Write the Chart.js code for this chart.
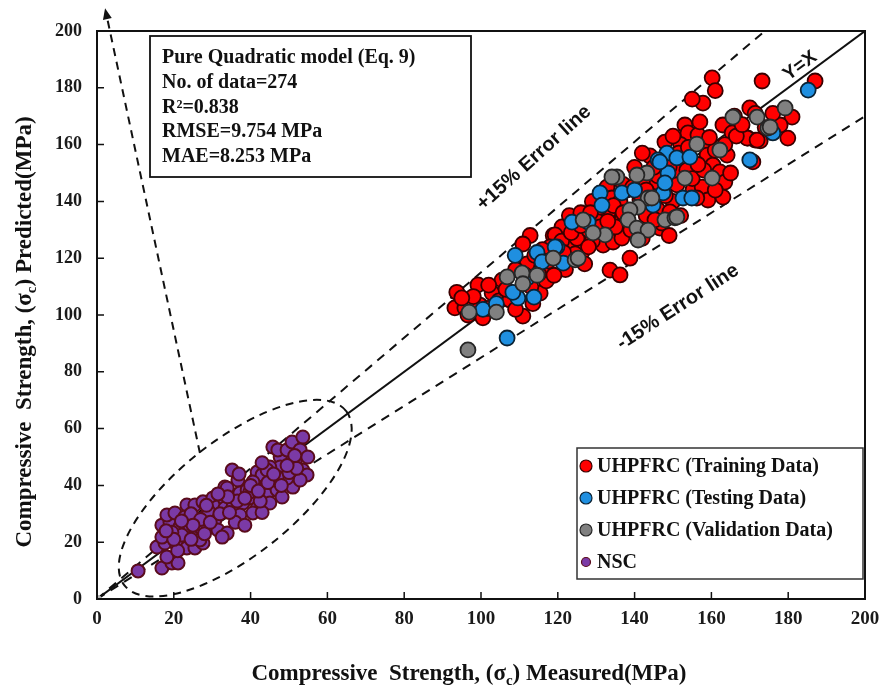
<!DOCTYPE html>
<html>
<head>
<meta charset="utf-8">
<script src="https://cdn.jsdelivr.net/npm/chart.js@4.4.1/dist/chart.umd.min.js"></script>
<style>
  body { margin: 0; background: #fff; }
  #chart { display: block; }
</style>
</head>
<body>
<canvas id="chart" width="889" height="692"></canvas>
<script>
const SERIF = "'Liberation Serif', 'Times New Roman', serif";
const SANS = "'Liberation Sans', Arial, sans-serif";

// axis range and tick step (MPa)
const AXIS_MIN = 0;
const AXIS_MAX = 200;
const TICK_STEP = 20;

const seriesLabels = [
  "UHPFRC (Training Data)",
  "UHPFRC (Testing Data)",
  "UHPFRC (Validation Data)",
  "NSC",
];

const statsLines = [
  "Pure Quadratic model (Eq. 9)",
  "No. of data=274",
  "R\u00b2=0.838",
  "RMSE=9.754 MPa",
  "MAE=8.253 MPa",
];

// [measured, predicted]
const trainData = [
  [93.7,108],[93.2,102.5],[95.8,102.5],[96.6,100],[99.2,110.6],[99.7,103.5],[100.5,99],[102.9,107.7],
  [104.7,105],[107.5,105.3],[115.4,107.7],[105.5,112.3],[110.9,99.6],[97.5,104.5],[101.8,102.3],[98,106.5],
  [112.8,128],[110.9,125],[118.8,128],[116.7,116.5],[121.1,131],[119.3,128.2],[124,124],[126.3,122.2],
  [130.2,133.5],[131.8,124.6],[134.4,125.7],[136.7,127.1],[133.6,115.8],[136.2,114.1],[138.8,120],[112,118],
  [114,121],[117,112],[120,120.5],[122,116],[125,127],[128,130],[127,118],[129,126],[113,110],[111.5,114],
  [118,124],[123,135],[116,123],[132.8,145],[134.1,141.2],[133.1,136.3],[136.2,139.8],[141.4,140.5],
  [144.5,138.7],[145.8,146.8],[136.7,133.5],[145.8,134.5],[146.6,130.6],[147.9,160.9],[147.1,132.4],
  [146.1,137],[153.1,166.9],[153.9,164.1],[156.5,163.4],[158.9,159.9],[164.1,156.3],[158.9,156.3],
  [160.4,152.8],[150.5,151],[153.6,151],[162.2,150.4],[163.5,146.8],[151,145.8],[155.2,144],[157.6,145],
  [159.1,140.5],[163,141.5],[156.2,141.2],[138,144],[140,152],[142,147],[139,130],[143,135],[150,140],
  [152,135],[149,128],[135,131],[131,138],[137,146],[144,156],[148,142],[155,148],[158,151],[161,144],
  [160.2,183.5],[161,179],[157.8,174.6],[173.2,182.4],[187,182.4],[170,172.9],[171.4,171],[181,169.7],
  [177.9,166.9],[179.9,162.3],[168.2,163.4],[169.5,162.3],[171.4,161.6],[172.7,161.3],[170.8,153.9],
  [163,166.9],[165.4,164.1],[169.3,162.3],[171.9,161.6],[166,170],[152,160],[129,140],[126,136],[142,127],
  [121,126],[123.5,129],[126,131.5],[131,131],[133,133],[128,124],[124.5,121.5],[119,114],[115,114.5],
  [117.5,119],[109,116],[106.5,109],[102,110.5],[95,106],[141,143],[143,144],[146,149],[149,152],
  [151.5,157],[154,159],[156.5,153],[161,158],[159.5,162.5],[157,168],[163.5,160],[166.5,163],
  [149.2,136.3],[145.3,133.5],[134.5,138.5],[139.5,145],[150,163],[165,150],[142,157],[145,152],
  [137,136],[128.5,136],[121.5,122],[113.5,104],[109,102],[174,166],[176,171],[168,167],[155,176],
];

const testData = [
  [100.5,102],[109.6,106],[108.3,108],[113.8,106.3],[108.9,121],[114.6,122],[115.9,118.7],[119.8,124],
  [121.4,118.3],[106.8,91.9],[131,143],[136.7,143],[131.5,138.7],[147.4,143],[148.7,150],[148.4,157],
  [146.1,154.6],[127.9,132.7],[123.7,132.7],[119.3,124],[151,155.3],[154.4,155.6],[146.6,153.9],
  [170,154.6],[147.9,146.5],[152.6,141.2],[154.9,141.2],[144.8,138.7],[185.2,179.2],[176,164.1],
  [140,144],[112,113],[104,104],
];

const validationData = [
  [96.9,101],[96.6,87.7],[106.8,113.4],[110.7,114.8],[110.9,111],[114.6,114],[118.8,120],[124.5,119.4],
  [143.2,150],[140.6,149.3],[135.4,148.6],[134.1,148.6],[143.5,141.2],[140.9,138],[138.8,137],[138.3,133.5],
  [140.6,130.6],[143.5,129.9],[147.9,133.5],[150.5,134.2],[140.9,126.4],[132.3,128.2],[129.2,128.9],
  [126.6,133.5],[125.3,120],[165.6,169.7],[171.9,169.7],[174.7,165.8],[156.2,160.2],[162.2,158.1],
  [153.1,148.2],[160.2,148.2],[144.5,141.2],[151,134.5],[179.2,172.9],[175.3,166.2],[104,101],
];

const nscData = [
  [10.7,9.9],[16.9,10.9],[19.5,12.7],[21.1,12.7],[18.2,14.8],[15.6,18.3],[17.7,19.7],[20.8,19],[23.4,18],
  [25.5,18],[27.6,19.7],[16.9,21.8],[16.9,26],[19,27.1],[21.6,25.4],[23.7,24.3],[25,21.8],[26.8,20.8],
  [22.1,22.5],[18.2,29.6],[20.3,30.3],[23.4,33.1],[25.5,33.1],[22.9,28.9],[26.3,27.8],[28.6,29.6],
  [26.8,25.4],[30.2,25.4],[30.7,27.8],[27.6,34.2],[30.2,35.6],[31.3,32.4],[33.3,34.9],[33.3,32],
  [35.4,36.6],[35.4,32.4],[31.5,24.3],[33.9,23.2],[32.6,21.8],[35.2,45.4],[36.7,41.9],[33.3,39.4],
  [37.2,37.3],[38,33.8],[40.4,35.6],[41.7,32],[40.6,30.3],[37.2,29.6],[39.1,38.4],[41.1,41.9],[41.7,44.7],
  [43,43.7],[43.8,39.4],[44.3,36.6],[45,33.8],[46.9,38.4],[46.4,41.9],[48.4,43],[48.2,35.9],[51,39.4],
  [49,48.9],[47.7,50],[45.8,53.5],[47.1,52.5],[49.5,52.5],[50.8,55.3],[53.6,57],[52.9,52.5],[54.9,50],
  [51.6,48.2],[53.6,45.4],[54.7,43.7],[52.9,41.9],[50.3,46.5],[47.7,46.5],[45,46.5],[40.6,41.2],
  [44.3,45.4],[39.8,37.7],[33.9,39.1],[49.5,42.6],[46.9,43],[29,31],[24.5,30],[28,23],[36,27],[43,30.5],
  [38.5,26],[19.5,23.5],[21,17],[24.5,21],[27,28],[29.5,27],[32,30],[34.5,30.5],[36.5,34.5],[38.5,35.5],
  [42.5,34.5],[40,40],[42,38],[44.5,41],[46,44],[48,40],[50,44.5],[52,46],[51.5,50.5],[49.5,47],
  [43,48],[37,44],[34,36],[31.5,37],[28.5,33],[25,26],[22,27.5],[20,21],[18,24],
];

const originPoint = [[0, 0]];

// reference lines: y = x and the +/-15% bounds
const refX = [0, 200];
const errorBand = 0.15;

// highlighted NSC region and its pointer (data units)
const ellipseCenter = [36, 35.5];
const arrowFrom = [26.8, 51.4];
const arrowTo = [2.1, 208];

const toXY = (pairs) => pairs.map(([x, y]) => ({ x, y }));
const refLine = (k) => refX.map((x) => ({ x, y: x * k }));

const pointSet = (label, data, fill, border, radius, width, order) => ({
  type: "scatter",
  label,
  data: toXY(data),
  backgroundColor: fill,
  borderColor: border,
  borderWidth: width,
  pointRadius: radius,
  pointHoverRadius: radius,
  order,
});

const lineSet = (label, data, dash) => ({
  type: "line",
  label,
  data,
  borderColor: "#111",
  borderWidth: 2,
  borderDash: dash,
  pointRadius: 0,
  fill: false,
  order: 10,
});

function drawSubText(ctx, parts, x, y, size) {
  // parts: [text, isSubscript]
  const fontFor = (sub) => `bold ${sub ? Math.round(size * 0.65) : size}px ${SERIF}`;
  let total = 0;
  parts.forEach(([t, sub]) => { ctx.font = fontFor(sub); total += ctx.measureText(t).width; });
  let cx = x - total / 2;
  ctx.textAlign = "left";
  ctx.textBaseline = "alphabetic";
  parts.forEach(([t, sub]) => {
    ctx.font = fontFor(sub);
    ctx.fillText(t, cx, y + (sub ? size * 0.22 : 0));
    cx += ctx.measureText(t).width;
  });
}

function rotatedLabel(ctx, text, px, py, deg, font) {
  ctx.save();
  ctx.translate(px, py);
  ctx.rotate(-deg * Math.PI / 180);
  ctx.font = font;
  ctx.textAlign = "center";
  ctx.textBaseline = "middle";
  ctx.fillText(text, 0, 0);
  ctx.restore();
}

const decorations = {
  id: "decorations",
  beforeDatasetsDraw(chart) {
    const { ctx } = chart;
    const sx = chart.scales.x, sy = chart.scales.y;
    ctx.save();
    ctx.strokeStyle = "#111";
    ctx.lineWidth = 2;
    ctx.setLineDash([8, 6]);

    // dashed ellipse around the NSC cluster
    ctx.beginPath();
    ctx.ellipse(sx.getPixelForValue(ellipseCenter[0]), sy.getPixelForValue(ellipseCenter[1]),
      141, 58, -38.2 * Math.PI / 180, 0, Math.PI * 2);
    ctx.stroke();

    // dashed arrow pointing to the top-left
    const x0 = sx.getPixelForValue(arrowFrom[0]), y0 = sy.getPixelForValue(arrowFrom[1]);
    const x1 = sx.getPixelForValue(arrowTo[0]), y1 = sy.getPixelForValue(arrowTo[1]);
    const ang = Math.atan2(y1 - y0, x1 - x0);
    const head = 11;
    ctx.beginPath();
    ctx.moveTo(x0, y0);
    ctx.lineTo(x1 - Math.cos(ang) * head, y1 - Math.sin(ang) * head);
    ctx.stroke();
    ctx.setLineDash([]);
    ctx.fillStyle = "#111";
    ctx.beginPath();
    ctx.moveTo(x1, y1);
    ctx.lineTo(x1 - Math.cos(ang) * head + Math.sin(ang) * 4.5, y1 - Math.sin(ang) * head - Math.cos(ang) * 4.5);
    ctx.lineTo(x1 - Math.cos(ang) * head - Math.sin(ang) * 4.5, y1 - Math.sin(ang) * head + Math.cos(ang) * 4.5);
    ctx.closePath();
    ctx.fill();
    ctx.restore();
  },
  afterDraw(chart) {
    const { ctx, chartArea: a } = chart;
    const sx = chart.scales.x, sy = chart.scales.y;
    ctx.save();

    // plot frame and inward tick marks
    ctx.strokeStyle = "#111";
    ctx.lineWidth = 2;
    ctx.strokeRect(a.left, a.top, a.right - a.left, a.bottom - a.top);
    ctx.lineWidth = 1.5;
    ctx.beginPath();
    for (let v = AXIS_MIN + TICK_STEP; v < AXIS_MAX; v += TICK_STEP) {
      const px = sx.getPixelForValue(v);
      ctx.moveTo(px, a.bottom);
      ctx.lineTo(px, a.bottom - 7);
      const py = sy.getPixelForValue(v);
      ctx.moveTo(a.left, py);
      ctx.lineTo(a.left + 7, py);
    }
    ctx.stroke();

    // statistics box
    const bx = a.left + 53, by = a.top + 5, bw = 321, bh = 141;
    ctx.fillStyle = "#fff";
    ctx.fillRect(bx, by, bw, bh);
    ctx.lineWidth = 1.8;
    ctx.strokeRect(bx, by, bw, bh);
    ctx.fillStyle = "#111";
    ctx.font = `bold 20px ${SERIF}`;
    ctx.textAlign = "left";
    ctx.textBaseline = "alphabetic";
    statsLines.forEach((t, i) => ctx.fillText(t, bx + 12, by + 27 + i * 24.8));

    // legend box
    const lx = a.left + 480, ly = a.top + 417, lw = 286, lh = 131;
    ctx.fillStyle = "#fff";
    ctx.fillRect(lx, ly, lw, lh);
    ctx.lineWidth = 1.5;
    ctx.strokeStyle = "#333";
    ctx.strokeRect(lx, ly, lw, lh);
    const sets = chart.data.datasets.filter((d) => seriesLabels.includes(d.label));
    sets.forEach((d, i) => {
      const cy = ly + 18 + i * 32;
      const r = d.label === "NSC" ? 4.5 : 6;
      ctx.beginPath();
      ctx.arc(lx + 9, cy, r, 0, Math.PI * 2);
      ctx.fillStyle = d.backgroundColor;
      ctx.fill();
      ctx.lineWidth = 1.2;
      ctx.strokeStyle = d.borderColor;
      ctx.stroke();
      ctx.fillStyle = "#111";
      ctx.font = `bold 20px ${SERIF}`;
      ctx.textBaseline = "middle";
      ctx.fillText(d.label, lx + 20, cy + 1);
    });

    // line annotations
    ctx.fillStyle = "#111";
    const sansBold = `bold 20px ${SANS}`;
    rotatedLabel(ctx, "+15% Error line", sx.getPixelForValue(113.8), sy.getPixelForValue(155.3), 42, sansBold);
    rotatedLabel(ctx, "-15% Error line", sx.getPixelForValue(151.3), sy.getPixelForValue(102.8), 33, sansBold);
    rotatedLabel(ctx, "Y=X", sx.getPixelForValue(183.1), sy.getPixelForValue(187.7), 36.5, `bold 19px ${SANS}`);

    // axis titles with subscript c
    ctx.fillStyle = "#111";
    drawSubText(ctx, [["Compressive  Strength, (\u03c3", false], ["c", true], [") Measured(MPa)", false]],
      (a.left + a.right) / 2 - 12, 680, 23);
    ctx.save();
    ctx.translate(31, (a.top + a.bottom) / 2 + 17);
    ctx.rotate(-Math.PI / 2);
    drawSubText(ctx, [["Compressive  Strength, (\u03c3", false], ["c", true], [") Predicted(MPa)", false]], 0, 0, 23);
    ctx.restore();

    ctx.restore();
  },
};

const ctx = document.getElementById("chart").getContext("2d");

new Chart(ctx, {
  data: {
    datasets: [
      lineSet("Y=X", refLine(1), []),
      lineSet("+15%", refLine(1 + errorBand), [9, 7]),
      lineSet("-15%", refLine(1 - errorBand), [9, 7]),
      pointSet(seriesLabels[0], trainData, "#ff0000", "#3a0000", 7.5, 1.8, 4),
      pointSet(seriesLabels[1], testData, "#1f8fe0", "#0b2233", 7.5, 1.8, 3),
      pointSet(seriesLabels[2], validationData, "#808080", "#262626", 7.5, 1.8, 2),
      pointSet(seriesLabels[3], nscData, "#7b3aa6", "#5a0c1c", 6.5, 2, 1),
      pointSet("origin", originPoint, "#b8b8b8", "#b8b8b8", 4, 1, 0),
    ],
  },
  options: {
    responsive: false,
    devicePixelRatio: 1,
    animation: false,
    layout: {
      padding: { top: 31, right: 24, left: 0, bottom: 0 },
    },
    scales: {
      x: {
        type: "linear",
        min: AXIS_MIN,
        max: AXIS_MAX,
        grid: { display: false, drawTicks: false },
        border: { display: false },
        ticks: {
          stepSize: TICK_STEP,
          padding: 9,
          color: "#1a1a1a",
          font: { family: SERIF, size: 19, weight: "bold" },
        },
        afterFit: (scale) => { scale.height = 93; },
      },
      y: {
        type: "linear",
        min: AXIS_MIN,
        max: AXIS_MAX,
        grid: { display: false, drawTicks: false },
        border: { display: false },
        ticks: {
          stepSize: TICK_STEP,
          padding: 15,
          color: "#1a1a1a",
          font: { family: SERIF, size: 18, weight: "bold" },
        },
        afterFit: (scale) => { scale.width = 97; },
      },
    },
    plugins: {
      legend: { display: false },
      tooltip: { enabled: false },
    },
  },
  plugins: [decorations],
});
</script>
</body>
</html>
